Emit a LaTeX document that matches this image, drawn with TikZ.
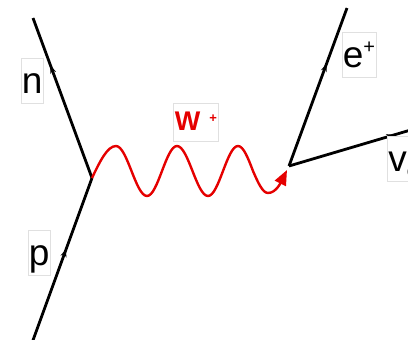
\documentclass[tikz,border=0pt]{standalone}
\usepackage{fontspec}
\setmainfont{Liberation Sans}
\usetikzlibrary{arrows.meta,decorations.markings}
\tikzset{
  fermion/.style={line width=2.8bp, black,
    decoration={markings, mark=at position #1 with {\arrow{Stealth[length=8bp,width=6bp]}}},
    postaction={decorate}},
  boson/.style={line width=2.4bp, red!90!black, -{Triangle[length=15bp,width=12bp]}},
  lbl/.style={draw=black!12, fill=white, line width=0.6bp, inner sep=0pt, inner xsep=1bp,
    text height=35bp, text depth=10bp, font=\fontsize{37bp}{40bp}\selectfont, anchor=base west},
  wlbl/.style={draw=black!12, fill=white, line width=0.6bp, inner sep=0pt, inner xsep=1.5bp,
    text height=27bp, text depth=11bp, font=\fontsize{27bp}{30bp}\selectfont\bfseries,
    text=red!90!black, anchor=base west}
}
\begin{document}
\begin{tikzpicture}[x=1bp,y=-1bp]
\useasboundingbox (0,0) rectangle (408,340);
\clip (0,0) rectangle (408,340);
\coordinate (v1) at (92,178);
\coordinate (v2) at (289,166);
\coordinate (nend) at (33,18);
\coordinate (pend) at (32,343);
\coordinate (eend) at (347,8);
\coordinate (nuend) at (414,129);
\coordinate (wtip) at (287,170);
% fermion lines
\draw[fermion=120bp] (v1) -- (nend);
\draw[fermion=100bp] (pend) -- (v1);
\draw[fermion=109bp] (v2) -- (eend);
\draw[fermion=110bp] (v2) -- (nuend);
% W boson
\draw[boson] (v1) sin (116,146) cos (131.5,171) sin (147,196) cos (162,171)
  sin (177,146) cos (192.5,171) sin (208,196) cos (223,171) sin (238,146)
  cos (253,171) sin (268,193) .. controls (276,193) and (281,182) .. (wtip);
% labels
\node[lbl] (ln) at (20.5,93) {n};
\node[lbl] (lp) at (27.5,265) {p};
\node[lbl] (le) at (341.5,67) {e\raisebox{14bp}{\fontsize{20bp}{20bp}\selectfont +}\hspace{3bp}};
\node[lbl] (lnu) at (387,171) {v\raisebox{-6bp}{\fontsize{20bp}{20bp}\selectfont e}};
\node[wlbl] (lw) at (173,130) {W\hspace{9bp}\raisebox{8bp}{\fontsize{13bp}{13bp}\selectfont +}\hspace{6bp}};
\end{tikzpicture}
\end{document}
